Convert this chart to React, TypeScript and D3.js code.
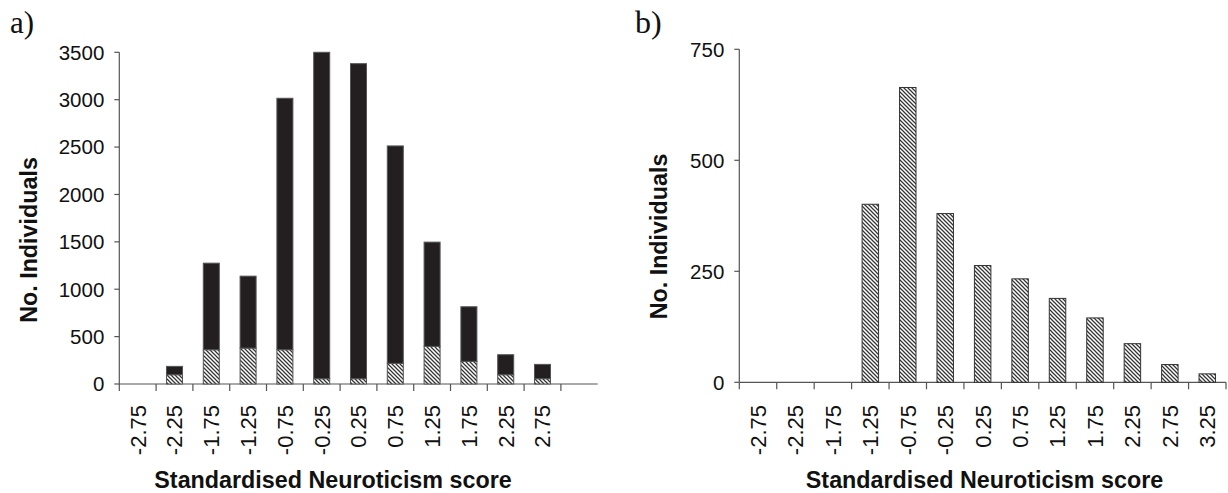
import React from "react";
import * as d3 from "d3";

// Panel a data
const catsA = ["-2.75", "-2.25", "-1.75", "-1.25", "-0.75", "-0.25", "0.25", "0.75", "1.25", "1.75", "2.25", "2.75"];
const hatchedA = [0, 98, 362, 379, 362, 56, 56, 218, 397, 239, 98, 56];
const blackA = [0, 88, 913, 759, 2653, 3444, 3324, 2294, 1100, 576, 211, 151];
const yTicksA = [0, 500, 1000, 1500, 2000, 2500, 3000, 3500];

// Panel b data
const catsB = ["-2.75", "-2.25", "-1.75", "-1.25", "-0.75", "-0.25", "0.25", "0.75", "1.25", "1.75", "2.25", "2.75", "3.25"];
const valuesB = [0, 0, 0, 401, 664, 380, 263, 233, 189, 145, 87, 40, 19];
const yTicksB = [0, 250, 500, 750];

const xTitle = "Standardised Neuroticism score";
const yTitle = "No. Individuals";

const SANS = "'Liberation Sans', Arial, Helvetica, sans-serif";
const SERIF = "'Liberation Serif', 'Times New Roman', serif";
const AXIS = "#555";

function Axes({ x, y, cats, yTicks, labelTop, tickLast }: any) {
  const [x0, x1] = x.range();
  const y0 = y.range()[0];
  const domain: string[] = x.domain();
  const bounds = domain.map((_d: string, i: number) => x0 + i * x.step());
  const allBounds = tickLast ? [...bounds, x1] : bounds;
  return (
    <g>
      <line x1={x0} x2={x0} y1={y.range()[1]} y2={y0} stroke={AXIS} strokeWidth={1.2} />
      <line x1={x0} x2={x1} y1={y0} y2={y0} stroke={AXIS} strokeWidth={1.2} />
      {yTicks.map((t: number) => (
        <g key={t}>
          <line x1={x0 - 5} x2={x0} y1={y(t)} y2={y(t)} stroke={AXIS} strokeWidth={1.2} />
          <text x={x0 - 15} y={y(t)} dy="0.36em" textAnchor="end" fontFamily={SANS} fontSize={20.5} fill="#111">
            {t}
          </text>
        </g>
      ))}
      {allBounds.map((b: number, i: number) => (
        <line key={i} x1={b} x2={b} y1={y0} y2={y0 + 7} stroke={AXIS} strokeWidth={1.2} />
      ))}
      {cats.map((c: string) => (
        <text
          key={c}
          transform={`translate(${x(c) + x.bandwidth() / 2},${labelTop}) rotate(-90)`}
          dy="0.36em"
          textAnchor="end"
          fontFamily={SANS}
          fontSize={22}
          fill="#111"
        >
          {c}
        </text>
      ))}
    </g>
  );
}

export default function App() {
  // Panel a scales
  const domainA = [...catsA, ""];
  const xA = d3.scaleBand<string>().domain(domainA).range([119.3, 597.7]).paddingInner(0.565).paddingOuter(0.2825);
  const yA = d3.scaleLinear().domain([0, 3500]).range([384, 52.3]);
  const stackData = catsA.map((c, i) => ({ cat: c, hatched: hatchedA[i], black: blackA[i] }));
  const stacked = d3.stack<any>().keys(["hatched", "black"])(stackData);

  // Panel b scales
  const xB = d3.scaleBand<string>().domain(catsB).range([739.3, 1226]).paddingInner(0.56).paddingOuter(0.28);
  const yB = d3.scaleLinear().domain([0, 750]).range([382.3, 49.3]);

  return (
    <svg width={1228} height={493} style={{ position: "absolute", left: 0, top: 0, background: "#fff" }}>
      <defs>
        <pattern id="hatch" patternUnits="userSpaceOnUse" width={4} height={4}>
          <rect width={4} height={4} fill="#fff" />
          <path d="M-1,-1 L5,5 M3,-1 L5,1 M-1,3 L1,5" stroke="#333" strokeWidth={1.25} />
        </pattern>
      </defs>

      {/* Panel a */}
      <text x={10} y={32.5} fontFamily={SERIF} fontSize={31} fill="#111">a)</text>
      <Axes x={xA} y={yA} cats={catsA} yTicks={yTicksA} labelTop={405} tickLast={false} />
      {stacked.map((layer) =>
        layer.map((d, i) => {
          const h = yA(d[0]) - yA(d[1]);
          if (h <= 0) return null;
          return (
            <rect
              key={layer.key + i}
              x={xA(catsA[i])}
              y={yA(d[1])}
              width={xA.bandwidth()}
              height={h}
              fill={layer.key === "hatched" ? "url(#hatch)" : "#231f20"}
              stroke="#555"
              strokeWidth={1}
            />
          );
        })
      )}
      <text
        transform={`translate(36.5,240) rotate(-90)`}
        textAnchor="middle"
        fontFamily={SANS}
        fontWeight="bold"
        fontSize={23.3}
        fill="#111"
      >
        {yTitle}
      </text>
      <text x={333} y={488} textAnchor="middle" fontFamily={SANS} fontWeight="bold" fontSize={23.3} fill="#111">
        {xTitle}
      </text>

      {/* Panel b */}
      <text x={635} y={33.3} fontFamily={SERIF} fontSize={32} fill="#111">b)</text>
      <Axes x={xB} y={yB} cats={catsB} yTicks={yTicksB} labelTop={405} tickLast={true} />
      {valuesB.map((v, i) =>
        v > 0 ? (
          <rect
            key={i}
            x={xB(catsB[i])}
            y={yB(v)}
            width={xB.bandwidth()}
            height={yB(0) - yB(v)}
            fill="url(#hatch)"
            stroke="#333"
            strokeWidth={1}
          />
        ) : null
      )}
      <text
        transform={`translate(667,236.5) rotate(-90)`}
        textAnchor="middle"
        fontFamily={SANS}
        fontWeight="bold"
        fontSize={23.3}
        fill="#111"
      >
        {yTitle}
      </text>
      <text x={984.5} y={488} textAnchor="middle" fontFamily={SANS} fontWeight="bold" fontSize={23.3} fill="#111">
        {xTitle}
      </text>
    </svg>
  );
}
